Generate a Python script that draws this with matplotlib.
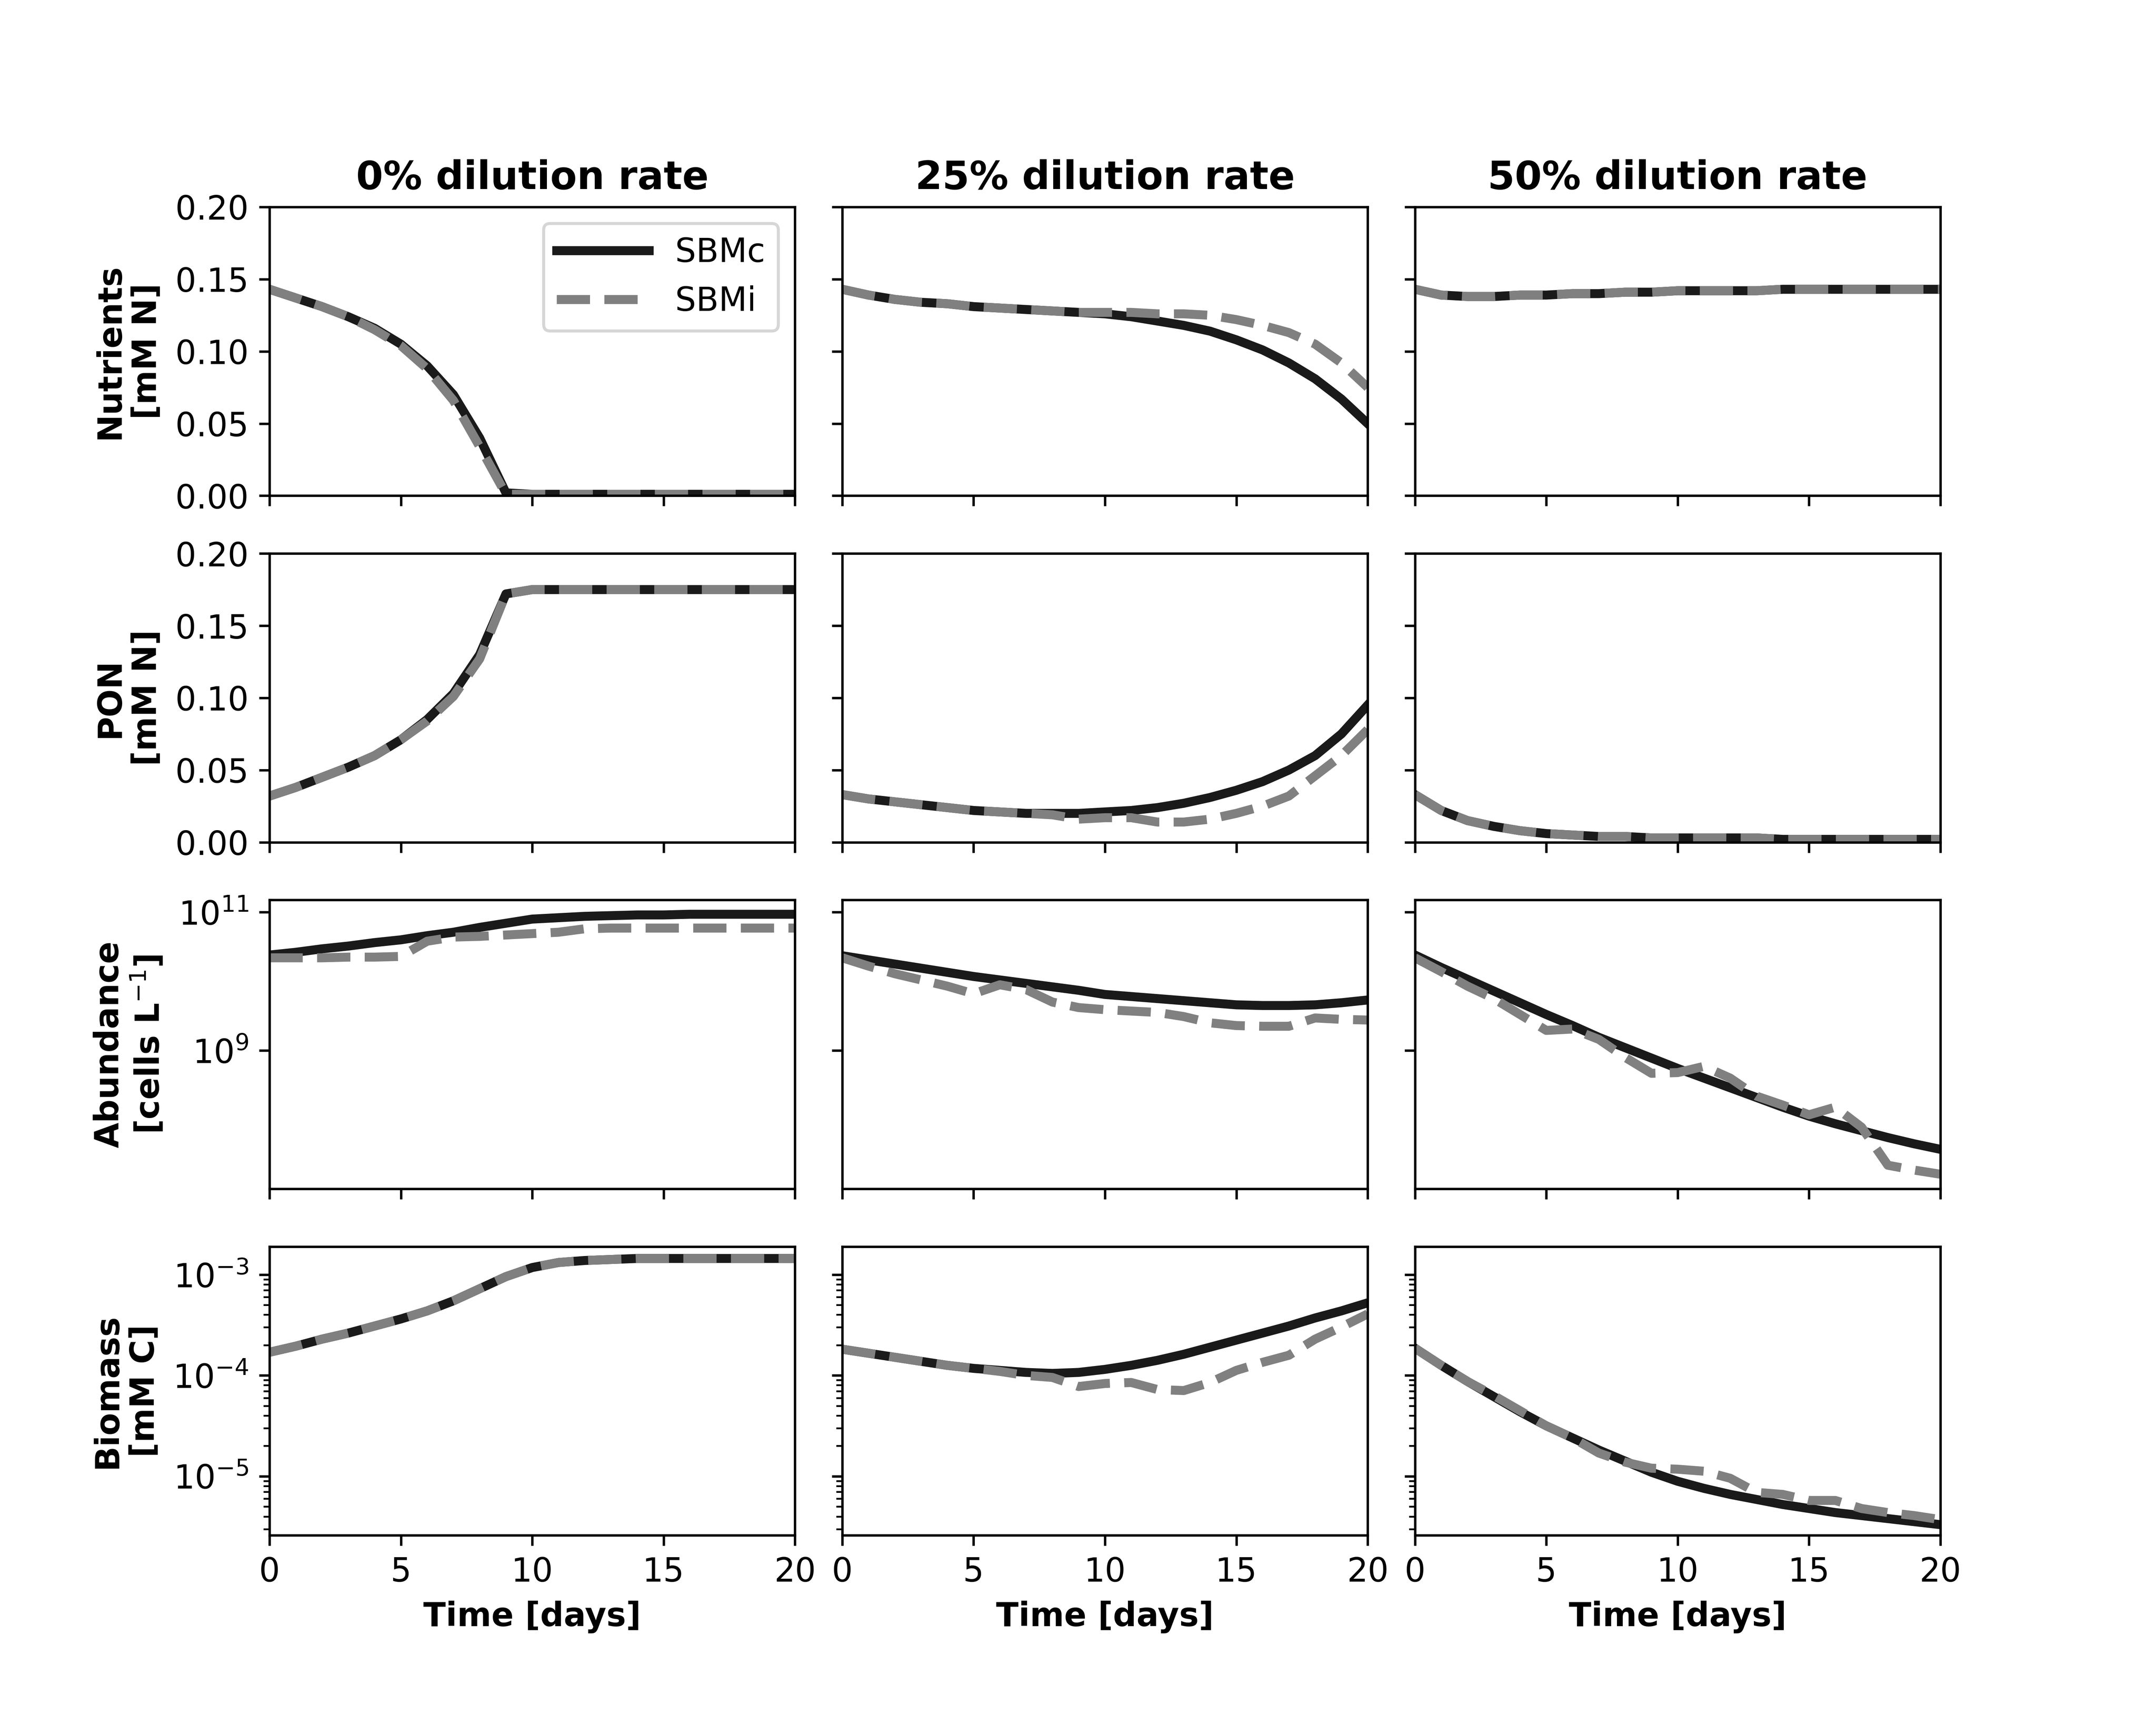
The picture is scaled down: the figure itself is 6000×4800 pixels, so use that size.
import numpy as np
import matplotlib
matplotlib.use("Agg")
import matplotlib.pyplot as plt

days = np.arange(21)
columns = ["0% dilution rate", "25% dilution rate", "50% dilution rate"]
row_labels = ["Nutrients\n[mM N]", "PON\n[mM N]", "Abundance\n[cells L$^{-1}$]", "Biomass\n[mM C]"]

# Nutrients [mM N]
nut0_c = [0.143, 0.137, 0.131, 0.124, 0.116, 0.105, 0.090, 0.070, 0.040, 0.002, 0.001,
          0.001, 0.001, 0.001, 0.001, 0.001, 0.001, 0.001, 0.001, 0.001, 0.001]
nut0_i = [0.143, 0.137, 0.131, 0.124, 0.115, 0.104, 0.088, 0.066, 0.034, 0.001, 0.001,
          0.001, 0.001, 0.001, 0.001, 0.001, 0.001, 0.001, 0.001, 0.001, 0.001]
nut25_c = [0.143, 0.139, 0.136, 0.134, 0.133, 0.131, 0.130, 0.129, 0.128, 0.127, 0.126,
           0.124, 0.121, 0.118, 0.114, 0.108, 0.101, 0.092, 0.081, 0.067, 0.050]
nut25_i = [0.143, 0.139, 0.136, 0.134, 0.133, 0.131, 0.130, 0.129, 0.128, 0.127, 0.127,
           0.127, 0.126, 0.126, 0.125, 0.122, 0.118, 0.113, 0.105, 0.092, 0.075]
nut50_c = [0.143, 0.139, 0.138, 0.138, 0.139, 0.139, 0.140, 0.140, 0.141, 0.141, 0.142,
           0.142, 0.142, 0.142, 0.143, 0.143, 0.143, 0.143, 0.143, 0.143, 0.143]
nut50_i = nut50_c

# PON [mM N]
pon0_c = [0.032, 0.038, 0.045, 0.052, 0.060, 0.071, 0.085, 0.103, 0.130, 0.172, 0.175,
          0.175, 0.175, 0.175, 0.175, 0.175, 0.175, 0.175, 0.175, 0.175, 0.175]
pon0_i = [0.032, 0.038, 0.045, 0.052, 0.060, 0.071, 0.084, 0.101, 0.127, 0.172, 0.175,
          0.175, 0.175, 0.175, 0.175, 0.175, 0.175, 0.175, 0.175, 0.175, 0.175]
pon25_c = [0.033, 0.030, 0.028, 0.026, 0.024, 0.022, 0.021, 0.020, 0.020, 0.020, 0.021,
           0.022, 0.024, 0.027, 0.031, 0.036, 0.042, 0.050, 0.060, 0.075, 0.095]
pon25_i = [0.033, 0.030, 0.028, 0.026, 0.024, 0.022, 0.021, 0.020, 0.019, 0.016, 0.017,
           0.017, 0.014, 0.014, 0.016, 0.020, 0.025, 0.032, 0.046, 0.060, 0.078]
pon50_c = [0.033, 0.022, 0.015, 0.011, 0.008, 0.006, 0.005, 0.004, 0.004, 0.003, 0.003,
           0.003, 0.003, 0.003, 0.002, 0.002, 0.002, 0.002, 0.002, 0.002, 0.002]
pon50_i = pon50_c

# Abundance, log10 [cells L-1]
ab0_c = [10.38, 10.42, 10.47, 10.51, 10.56, 10.60, 10.66, 10.71, 10.78, 10.84, 10.90,
         10.92, 10.94, 10.95, 10.96, 10.96, 10.97, 10.97, 10.97, 10.97, 10.97]
ab0_i = [10.34, 10.34, 10.34, 10.35, 10.35, 10.36, 10.58, 10.64, 10.65, 10.67, 10.69,
         10.71, 10.76, 10.77, 10.77, 10.77, 10.77, 10.77, 10.77, 10.77, 10.77]
ab25_c = [10.37, 10.31, 10.25, 10.19, 10.13, 10.07, 10.02, 9.97, 9.92, 9.87, 9.81,
          9.78, 9.75, 9.72, 9.69, 9.66, 9.65, 9.65, 9.66, 9.69, 9.73]
ab25_i = [10.34, 10.22, 10.11, 10.02, 9.93, 9.82, 9.95, 9.88, 9.70, 9.62, 9.59,
          9.57, 9.55, 9.49, 9.40, 9.36, 9.35, 9.35, 9.47, 9.45, 9.44]
ab50_c = [10.38, 10.20, 10.03, 9.86, 9.69, 9.52, 9.36, 9.19, 9.04, 8.89, 8.74,
          8.60, 8.46, 8.32, 8.18, 8.05, 7.94, 7.84, 7.74, 7.65, 7.57]
ab50_i = [10.34, 10.14, 9.93, 9.75, 9.52, 9.29, 9.31, 9.16, 8.90, 8.67, 8.68,
          8.77, 8.60, 8.34, 8.21, 8.07, 8.18, 7.89, 7.34, 7.27, 7.21]

# Biomass, log10 [mM C]
bm0_c = [-3.77, -3.71, -3.64, -3.58, -3.51, -3.44, -3.36, -3.26, -3.14, -3.02, -2.93,
         -2.88, -2.86, -2.85, -2.84, -2.84, -2.84, -2.84, -2.84, -2.84, -2.84]
bm0_i = bm0_c
bm25_c = [-3.74, -3.78, -3.82, -3.86, -3.90, -3.93, -3.95, -3.97, -3.98, -3.97, -3.94,
          -3.90, -3.85, -3.79, -3.72, -3.65, -3.58, -3.51, -3.43, -3.36, -3.28]
bm25_i = [-3.74, -3.78, -3.82, -3.86, -3.90, -3.93, -3.96, -4.00, -4.02, -4.11, -4.08,
          -4.07, -4.14, -4.15, -4.07, -3.95, -3.87, -3.80, -3.64, -3.52, -3.39]
bm50_c = [-3.73, -3.90, -4.06, -4.21, -4.36, -4.50, -4.62, -4.74, -4.85, -4.96, -5.05,
          -5.12, -5.18, -5.23, -5.28, -5.32, -5.36, -5.39, -5.42, -5.45, -5.48]
bm50_i = [-3.73, -3.90, -4.06, -4.20, -4.35, -4.50, -4.62, -4.77, -4.86, -4.92, -4.93,
          -4.95, -5.02, -5.16, -5.18, -5.24, -5.24, -5.32, -5.36, -5.39, -5.43]

data = [
    [(nut0_c, nut0_i), (nut25_c, nut25_i), (nut50_c, nut50_i)],
    [(pon0_c, pon0_i), (pon25_c, pon25_i), (pon50_c, pon50_i)],
    [(ab0_c, ab0_i), (ab25_c, ab25_i), (ab50_c, ab50_i)],
    [(bm0_c, bm0_i), (bm25_c, bm25_i), (bm50_c, bm50_i)],
]
log_rows = {2, 3}

fig, axes = plt.subplots(4, 4 - 1, figsize=(10, 8), sharex=True, sharey="row")
fig.subplots_adjust(wspace=0.09, hspace=0.2)

for r in range(4):
    for c in range(3):
        ax = axes[r, c]
        sc, si = data[r][c]
        if r in log_rows:
            sc, si = 10 ** np.array(sc), 10 ** np.array(si)
            ax.set_yscale("log")
        ax.plot(days, sc, color="#1a1a1a", lw=3, label="SBMc")
        ax.plot(days, si, color="#808080", lw=3, ls="--", label="SBMi")
        ax.set_xlim(0, 20)
        ax.set_xticks([0, 5, 10, 15, 20])
        if r == 0:
            ax.set_title(columns[c], fontsize=13, fontweight="bold")
        if r == 3:
            ax.set_xlabel("Time [days]", fontsize=11, fontweight="bold")
        if c == 0:
            ax.set_ylabel(row_labels[r], fontsize=11, fontweight="bold")
        ax.tick_params(labelsize=11)

for r in range(2):
    axes[r, 0].set_ylim(0, 0.2)
    axes[r, 0].set_yticks([0, 0.05, 0.10, 0.15, 0.20])

axes[2, 0].set_ylim(1e7, 1.5e11)
axes[2, 0].set_yticks([1e9, 1e11])
axes[2, 0].yaxis.set_minor_locator(matplotlib.ticker.NullLocator())
axes[3, 0].set_ylim(2.6e-6, 1.9e-3)

axes[0, 0].legend(loc="upper right", fontsize=11, handlelength=2.8)

fig.savefig("out.png", dpi=600)
